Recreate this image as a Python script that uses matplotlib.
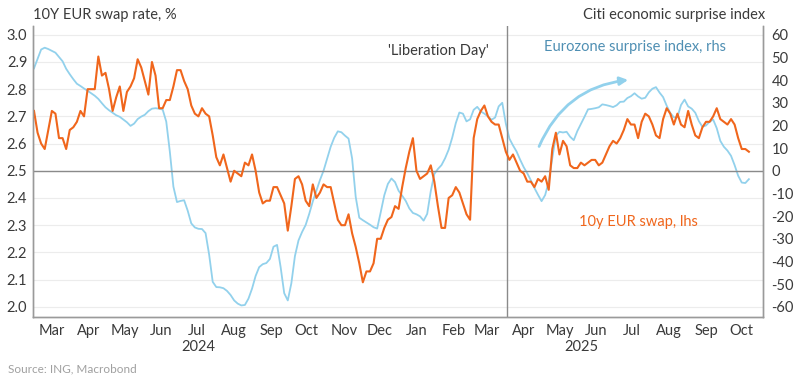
import pandas as pd
import numpy as np
import matplotlib
matplotlib.use("Agg")
import matplotlib.pyplot as plt
import matplotlib.dates as mdates
from matplotlib.transforms import blended_transform_factory

plt.rcParams['font.family'] = ['Lato', 'DejaVu Sans']
plt.rcParams['axes.unicode_minus'] = False

# data: sampled every 3 days from 2024-03-01
start_date = "2024-03-01"
step = "3D"

# 10y EUR swap rate, % (lhs)
swap_rate = [
    2.72, 2.64, 2.60, 2.58, 2.65, 2.72, 2.71, 2.62, 2.62, 2.58,
    2.65, 2.66, 2.68, 2.72, 2.70, 2.80, 2.80, 2.80, 2.92, 2.85,
    2.86, 2.80, 2.72, 2.77, 2.81, 2.72, 2.79, 2.81, 2.84, 2.91,
    2.88, 2.83, 2.78, 2.90, 2.85, 2.73, 2.73, 2.76, 2.76, 2.81,
    2.87, 2.87, 2.83, 2.80, 2.74, 2.71, 2.70, 2.73, 2.71, 2.70,
    2.63, 2.55, 2.52, 2.56, 2.51, 2.46, 2.50, 2.49, 2.48, 2.53,
    2.52, 2.56, 2.50, 2.42, 2.38, 2.39, 2.39, 2.44, 2.44, 2.41,
    2.38, 2.28, 2.37, 2.47, 2.48, 2.45, 2.39, 2.37, 2.45, 2.40,
    2.42, 2.45, 2.44, 2.44, 2.38, 2.32, 2.30, 2.30, 2.34, 2.27,
    2.22, 2.16, 2.09, 2.13, 2.13, 2.16, 2.25, 2.25, 2.29, 2.32,
    2.33, 2.37, 2.36, 2.44, 2.51, 2.57, 2.62, 2.50, 2.47, 2.48,
    2.49, 2.52, 2.46, 2.37, 2.29, 2.29, 2.40, 2.41, 2.44, 2.42,
    2.38, 2.34, 2.32, 2.62, 2.69, 2.72, 2.74, 2.70, 2.68, 2.67,
    2.67, 2.62, 2.57, 2.54, 2.56, 2.53, 2.50, 2.49, 2.46, 2.46,
    2.44, 2.47, 2.46, 2.48, 2.43, 2.58, 2.64, 2.56, 2.61, 2.59,
    2.52, 2.51, 2.51, 2.53, 2.52, 2.53, 2.54, 2.54, 2.52, 2.53,
    2.56, 2.59, 2.61, 2.60, 2.62, 2.65, 2.69, 2.67, 2.67, 2.62,
    2.68, 2.71, 2.70, 2.67, 2.63, 2.62, 2.69, 2.73, 2.71, 2.67,
    2.71, 2.67, 2.66, 2.72, 2.67, 2.63, 2.62, 2.66, 2.68, 2.68,
    2.70, 2.73, 2.69, 2.68, 2.67, 2.69, 2.67, 2.62, 2.58, 2.58,
    2.57,
]

# Citi economic surprise index, eurozone (rhs)
surprise_index = [
    45.2, 49.3, 53.5, 54.3, 53.7, 52.9, 52.1, 50.2, 48.3, 45.0,
    42.6, 40.4, 38.4, 37.4, 36.3, 35.3, 34.2, 33.1, 31.7, 29.8,
    28.0, 26.7, 25.6, 24.5, 23.8, 22.6, 21.4, 19.8, 20.8, 22.8,
    23.9, 24.7, 26.3, 27.4, 27.6, 27.4, 27.0, 21.7, 8.5, -7.0,
    -13.8, -13.3, -13.0, -17.6, -23.2, -25.0, -25.6, -25.7, -27.5, -37.0,
    -49.0, -51.3, -51.4, -51.8, -53.0, -54.8, -57.2, -58.6, -59.4, -59.2,
    -56.4, -52.0, -46.4, -42.5, -41.2, -40.7, -38.9, -33.5, -32.7, -42.5,
    -54.0, -57.2, -49.6, -37.6, -30.7, -27.0, -23.9, -19.0, -13.5, -8.8,
    -4.1, 0.0, 5.3, 10.6, 14.6, 17.4, 17.0, 15.5, 14.2, 5.4,
    -11.5, -20.7, -21.8, -22.8, -23.8, -24.9, -25.5, -18.3, -10.8, -5.8,
    -3.4, -5.0, -8.8, -11.0, -13.3, -16.6, -18.6, -19.2, -20.1, -22.0,
    -19.0, -9.0, -1.4, 0.8, 2.5, 5.5, 9.3, 14.6, 21.0, 25.7,
    25.2, 21.8, 22.7, 26.9, 28.2, 26.2, 25.2, 24.0, 22.5, 23.5,
    28.4, 30.0, 20.8, 14.2, 11.2, 8.5, 4.9, 1.6, -1.1, -4.2,
    -7.6, -10.6, -13.4, -10.7, -4.8, 5.6, 15.5, 17.2, 16.9, 17.2,
    15.0, 13.5, 17.5, 20.6, 23.8, 27.1, 27.3, 27.6, 28.0, 29.3,
    29.0, 28.6, 28.1, 28.9, 30.4, 30.5, 32.1, 32.9, 34.2, 32.8,
    31.8, 32.2, 34.6, 36.2, 36.9, 34.5, 32.5, 28.7, 25.5, 23.6,
    23.6, 29.0, 31.4, 28.4, 27.4, 25.6, 21.9, 19.4, 20.0, 21.6,
    22.6, 18.8, 13.2, 10.6, 8.9, 6.6, 2.5, -2.2, -5.2, -5.4,
    -3.7,
]

liberation_day = "2025-04-02"
left_ticks = [2.0, 2.1, 2.2, 2.3, 2.4, 2.5, 2.6, 2.7, 2.8, 2.9, 3.0]
right_ticks = [-60, -50, -40, -30, -20, -10, 0, 10, 20, 30, 40, 50, 60]

dates = pd.date_range(start_date, periods=len(swap_rate), freq=step)

orange = "#f0661c"
blue = "#92d1ec"
text_col = "#3a3a3a"
grey = "#9a9a9a"

fig = plt.figure(figsize=(8, 3.85), dpi=100)
ax = fig.add_axes([0.041, 0.177, 0.913, 0.756])
ax2 = ax.twinx()
ax.set_zorder(ax2.get_zorder() + 1)
ax.patch.set_visible(False)

ylo, yhi = 1.963, 3.033
ax.set_ylim(ylo, yhi)
ax2.set_ylim((ylo - 2.5) * 120, (yhi - 2.5) * 120)
ax.set_xlim(pd.Timestamp("2024-02-29"), pd.Timestamp("2025-11-03"))

ax2.plot(dates, surprise_index, color=blue, lw=1.3)
ax.plot(dates, swap_rate, color=orange, lw=1.5)

# grid + reference lines
for t in left_ticks:
    ax2.axhline((t - 2.5) * 120, color="#ececec", lw=0.8, zorder=0)
ax.axhline(2.5, color="#8a8a8a", lw=1.0, zorder=1)
ax.axvline(pd.Timestamp(liberation_day), color="#8a8a8a", lw=1.0, zorder=1)

ax.set_yticks(left_ticks)
ax.set_yticklabels([f"{t:.1f}" for t in left_ticks])
ax2.set_yticks(right_ticks)
ax2.set_yticklabels([str(t) for t in right_ticks])

months = pd.date_range("2024-03-01", "2025-10-01", freq="MS") + pd.Timedelta(days=15)
ax.set_xticks(months)
ax.xaxis.set_major_formatter(mdates.DateFormatter("%b"))

for a in (ax, ax2):
    a.tick_params(length=0, labelsize=10.5, colors=text_col)
    a.spines["top"].set_visible(False)
    for s in ("left", "right", "bottom"):
        a.spines[s].set_color(grey)
        a.spines[s].set_linewidth(1.0)
ax.tick_params(axis="y", pad=4)
ax2.tick_params(axis="y", pad=6)
ax.tick_params(axis="x", pad=5)

# year labels
trans = blended_transform_factory(ax.transAxes, fig.transFigure)
ax.text(0.226, 1 - 347 / 385, "2024", transform=trans, ha="center", va="center",
        fontsize=10.5, color=text_col)
ax.text(0.751, 1 - 347 / 385, "2025", transform=trans, ha="center", va="center",
        fontsize=10.5, color=text_col)

# titles and source
fig.text(0.041, 1 - 15 / 385, "10Y EUR swap rate, %", ha="left", va="center",
         fontsize=10.5, color=text_col)
fig.text(0.956, 1 - 15 / 385, "Citi economic surprise index", ha="right", va="center",
         fontsize=10.5, color=text_col)
fig.text(0.01, 1 - 369 / 385, "Source: ING, Macrobond", ha="left", va="center",
         fontsize=8.5, color="#a0a0a0")

# annotations
ax.text(pd.Timestamp("2025-03-18"), 2.94, "'Liberation Day'", ha="right", va="center",
        fontsize=10.5, color=text_col)
ax.text(pd.Timestamp("2025-05-03"), 2.955, "Eurozone surprise index, rhs", ha="left",
        va="center", fontsize=10.5, color="#4f8fb3")
ax.text(pd.Timestamp("2025-06-01"), 2.31, "10y EUR swap, lhs", ha="left", va="center",
        fontsize=10.5, color=orange)
ax.annotate("", xy=(pd.Timestamp("2025-07-15"), 2.835),
            xytext=(pd.Timestamp("2025-04-28"), 2.58),
            arrowprops=dict(arrowstyle="-|>", color=blue, lw=2,
                            connectionstyle="arc3,rad=-0.3", mutation_scale=12))

fig.savefig("out.png", dpi=100)
